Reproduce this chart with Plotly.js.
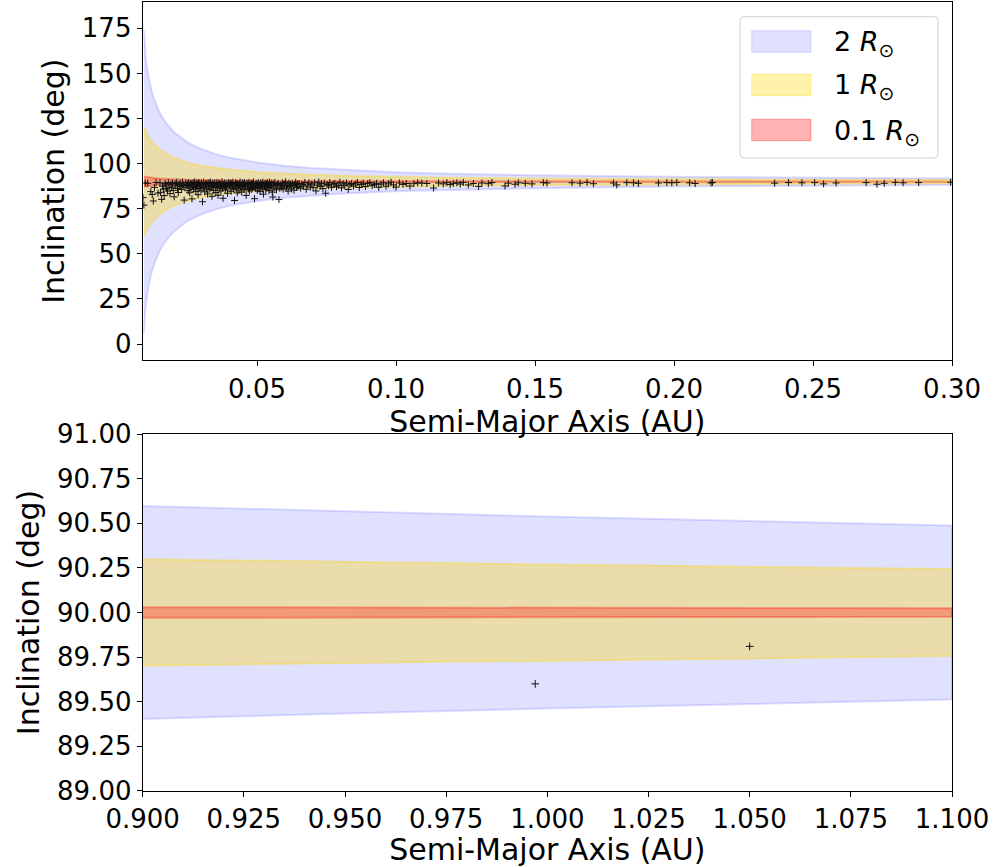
<!DOCTYPE html>
<html>
<head>
<meta charset="utf-8">
<script src="https://cdn.plot.ly/plotly-3.0.1.min.js"></script>
<style>
  html, body { margin: 0; padding: 0; background: #ffffff; }
  #chart { width: 997px; height: 867px; }
</style>
</head>
<body>
<div id="chart"></div>
<script>
// Transit-allowed inclination bands (90 deg +/- half-width) for three stellar radii,
// with the observed planets plotted on top.

const CENTER_INC = 90;

// Upper panel: band sample points (AU) and half-widths (deg)
const bandA_top = [0.00935, 0.0095, 0.0097, 0.0100, 0.0105, 0.0110, 0.0120, 0.0130, 0.0150, 0.0170,
                   0.0200, 0.0250, 0.0300, 0.0350, 0.0400, 0.0500, 0.0600, 0.0700, 0.0800, 0.1000,
                   0.1200, 0.1500, 0.2000, 0.2500, 0.3000];
const halfW_2Rsun_top = [84.0, 78.2, 73.5, 68.4, 62.3, 57.7, 50.8, 45.7, 38.3, 33.2,
                         27.7, 21.8, 18.1, 15.4, 13.4, 10.7, 8.9, 7.6, 6.7, 5.3,
                         4.4, 3.6, 2.7, 2.1, 1.8];
const halfW_1Rsun_top = [29.8, 29.3, 28.6, 27.7, 26.3, 25.0, 22.8, 21.0, 18.1, 15.9,
                         13.4, 10.7, 8.9, 7.6, 6.7, 5.3, 4.4, 3.8, 3.3, 2.7,
                         2.2, 1.8, 1.3, 1.1, 0.9];
const halfW_01Rsun_top = [2.85, 2.80, 2.75, 2.66, 2.54, 2.42, 2.22, 2.05, 1.78, 1.57,
                          1.33, 1.07, 0.89, 0.76, 0.67, 0.53, 0.44, 0.38, 0.33, 0.27,
                          0.22, 0.18, 0.13, 0.11, 0.09];

// Lower panel: band sample points (AU) and half-widths (deg)
const bandA_bot = [0.90, 0.95, 1.00, 1.05, 1.10];
const halfW_2Rsun_bot = [0.597, 0.566, 0.538, 0.512, 0.488];
const halfW_1Rsun_bot = [0.299, 0.283, 0.269, 0.256, 0.244];
const halfW_01Rsun_bot = [0.030, 0.028, 0.027, 0.026, 0.024];

// Planets: semi-major axis (AU) and inclination (deg)
const planetA = [
  0.0090, 0.0093, 0.0098, 0.0107, 0.0118, 0.0123, 0.0127, 0.0131, 0.0137, 0.0144,
  0.0151, 0.0153, 0.0157, 0.0160, 0.0163, 0.0166, 0.0169, 0.0172, 0.0175, 0.0178,
  0.0181, 0.0184, 0.0187, 0.0190, 0.0193, 0.0196, 0.0199, 0.0202, 0.0205, 0.0208,
  0.0211, 0.0214, 0.0217, 0.0220, 0.0223, 0.0226, 0.0229, 0.0232, 0.0235, 0.0238,
  0.0241, 0.0244, 0.0247,
  0.0250, 0.0252, 0.0254, 0.0256, 0.0258, 0.0260, 0.0262, 0.0264, 0.0266, 0.0268,
  0.0270, 0.0272, 0.0274, 0.0276, 0.0278, 0.0280, 0.0282, 0.0284, 0.0286, 0.0288,
  0.0290, 0.0292, 0.0294, 0.0296, 0.0298, 0.0300, 0.0302, 0.0304, 0.0306, 0.0308,
  0.0310, 0.0312, 0.0314, 0.0316, 0.0318, 0.0320, 0.0322, 0.0324, 0.0326, 0.0328,
  0.0330, 0.0332, 0.0334, 0.0336, 0.0338, 0.0340, 0.0342, 0.0344, 0.0346, 0.0348,
  0.0350, 0.0352, 0.0354, 0.0356, 0.0358, 0.0360, 0.0362, 0.0364, 0.0366, 0.0368,
  0.0370, 0.0372, 0.0374, 0.0376, 0.0378, 0.0380, 0.0382, 0.0384, 0.0386, 0.0388,
  0.0390, 0.0392, 0.0394, 0.0396, 0.0398,
  0.0401, 0.0403, 0.0405, 0.0407, 0.0409, 0.0411, 0.0413, 0.0415, 0.0417, 0.0419,
  0.0421, 0.0423, 0.0425, 0.0427, 0.0429, 0.0431, 0.0433, 0.0435, 0.0437, 0.0439,
  0.0441, 0.0443, 0.0445, 0.0447, 0.0449, 0.0451, 0.0453, 0.0455, 0.0457, 0.0459,
  0.0461, 0.0463, 0.0465, 0.0467, 0.0469, 0.0471, 0.0473, 0.0475, 0.0477, 0.0479,
  0.0481, 0.0483, 0.0485, 0.0487, 0.0489, 0.0491, 0.0493, 0.0495, 0.0497, 0.0499,
  0.0501, 0.0503, 0.0505, 0.0507, 0.0509, 0.0511, 0.0513, 0.0515, 0.0517, 0.0519,
  0.0521, 0.0523, 0.0525, 0.0527, 0.0529, 0.0531, 0.0533, 0.0535, 0.0537, 0.0539,
  0.0541, 0.0543, 0.0545, 0.0547, 0.0549, 0.0551, 0.0553, 0.0555, 0.0557, 0.0559,
  0.0561, 0.0564, 0.0567, 0.0570, 0.0573, 0.0576, 0.0579, 0.0582, 0.0585, 0.0588,
  0.0591, 0.0594, 0.0597, 0.0600, 0.0603, 0.0606, 0.0609, 0.0612, 0.0615, 0.0618,
  0.0621, 0.0624, 0.0627, 0.0630, 0.0633, 0.0636, 0.0639, 0.0642, 0.0645, 0.0648,
  0.0652, 0.0657, 0.0662, 0.0667, 0.0672, 0.0677, 0.0682, 0.0687, 0.0692, 0.0697,
  0.0702, 0.0707, 0.0712, 0.0717, 0.0722, 0.0727, 0.0732, 0.0737, 0.0742, 0.0747,
  0.0752, 0.0757, 0.0762, 0.0768, 0.0774, 0.0780, 0.0786, 0.0792, 0.0798, 0.0804,
  0.0810, 0.0816, 0.0822, 0.0828, 0.0834, 0.0840, 0.0847, 0.0854, 0.0861, 0.0868,
  0.0875, 0.0882, 0.0890, 0.0898, 0.0906, 0.0914, 0.0922, 0.0930, 0.0938, 0.0946,
  0.0955, 0.0964, 0.0973, 0.0982, 0.0991, 0.1000, 0.1012, 0.1025, 0.1037, 0.1050,
  0.1064, 0.1078,
  0.1093, 0.1111, 0.1135, 0.1153, 0.1170, 0.1183, 0.1195, 0.1206, 0.1219, 0.1231,
  0.1242, 0.1260, 0.1278, 0.1297, 0.1309, 0.1332, 0.1345, 0.1392, 0.1404, 0.1428,
  0.1440, 0.1465, 0.1489, 0.1530, 0.1543, 0.1633, 0.1662, 0.1687, 0.1710, 0.1782,
  0.1794, 0.1830, 0.1854, 0.1872, 0.1944, 0.1974, 0.1992, 0.2010,
  0.2056, 0.2076, 0.2133, 0.2138, 0.2362, 0.2412, 0.2460, 0.2506, 0.2538, 0.2583,
  0.2691, 0.2730, 0.2756, 0.2796, 0.2824, 0.2880, 0.2995,
  0.997, 1.050
];
const planetInc = [
  81.2, 77.0, 89.3, 89.1, 84.5, 82.9, 79.3, 86.8, 89.6, 83.7,
  89.4, 84.1, 80.2, 87.5, 85.9, 82.3, 89.0, 88.2, 86.1, 84.8,
  89.5, 87.0, 83.4, 88.7, 86.6, 89.2, 85.2, 81.6, 88.9, 87.7,
  89.7, 86.3, 84.0, 88.4, 89.1, 87.3, 85.7, 89.8, 88.0, 79.8,
  86.9, 89.3, 87.9,
  88.6, 85.0, 89.5, 87.2, 83.9, 89.0, 86.4, 88.8, 80.5, 87.6,
  89.4, 85.8, 88.1, 89.9, 86.9, 84.6, 88.5, 89.2, 87.4, 82.8,
  89.6, 86.2, 88.9, 87.8, 85.3, 89.3, 88.3, 78.9, 86.7, 89.7,
  87.1, 84.4, 88.7, 89.0, 86.0, 88.2, 83.2, 89.5, 87.5, 85.6,
  88.9, 89.8, 86.5, 88.0, 81.9, 89.1, 87.3, 85.1, 88.6, 89.4,
  86.8, 84.0, 88.4, 89.6, 87.0, 82.5, 88.8, 86.1, 89.2, 87.7,
  84.9, 88.1, 89.9, 86.4, 80.8, 88.5, 87.4, 89.3, 85.5, 88.0,
  86.9, 89.0, 83.6, 87.9, 89.5,
  88.3, 86.6, 89.2, 84.7, 88.9, 87.5, 89.7, 85.9, 88.2, 79.6,
  87.1, 89.4, 86.3, 88.7, 83.8, 89.0, 87.8, 85.4, 88.5, 89.8,
  86.9, 88.0, 84.3, 89.3, 87.2, 88.6, 85.7, 89.5, 86.5, 88.1,
  82.4, 89.1, 87.6, 88.8, 86.0, 89.6, 84.9, 88.4, 87.0, 89.2,
  85.8, 88.9, 86.7, 89.9, 87.4, 80.6, 88.2, 86.2, 89.0, 87.9,
  85.2, 88.7, 89.4, 86.8, 88.0, 84.5, 89.3, 87.3, 88.6, 86.1,
  89.7, 83.1, 88.3, 87.7, 89.1, 85.6, 88.9, 86.6, 89.5, 87.1,
  88.4, 85.0, 89.8, 86.9, 88.1, 87.5, 89.2, 84.2, 81.5, 88.7,
  86.4, 89.6, 87.8, 85.5, 88.5, 89.0, 80.1, 86.3, 88.2, 87.0,
  89.4, 85.9, 88.8, 87.6, 89.9, 86.5, 88.0, 84.8, 89.3, 87.3,
  88.6, 86.0, 89.1, 87.9, 85.3, 88.4, 89.7, 86.8, 88.9, 87.2,
  89.0, 86.4, 88.5, 87.5, 89.6, 85.8, 88.2, 89.3, 87.0, 88.7,
  86.7, 89.4, 84.9, 88.1, 89.8, 87.4, 88.9, 86.2, 89.2, 83.6,
  88.4, 87.7, 89.5, 86.9, 88.6, 89.1, 87.2, 88.0, 89.7, 86.6,
  88.8, 87.9, 89.3, 85.7, 88.3, 89.0, 87.6, 88.7, 89.6, 86.8,
  88.5, 89.2, 87.3, 88.9, 89.5, 87.8, 88.4, 89.1, 86.9, 88.6,
  89.4, 87.5, 88.8, 89.7, 88.2, 87.0, 89.3, 88.5, 89.0, 87.6,
  88.9, 89.4,
  89.2, 89.0, 86.5, 89.3, 88.8, 89.5, 88.4, 89.1, 89.4, 88.7,
  89.6, 88.2, 89.0, 87.4, 89.3, 88.9, 89.5, 87.6, 89.2, 88.6,
  89.4, 89.1, 88.8, 89.5, 89.3, 89.4, 89.2, 89.6, 88.9, 89.3,
  88.2, 89.5, 89.4, 89.1, 89.3, 89.5, 89.4, 89.6,
  89.4, 89.0, 89.3, 89.6, 89.2, 89.5, 89.4, 89.5, 88.8, 89.3,
  89.5, 88.6, 89.1, 89.6, 89.4, 89.5, 89.7,
  89.60, 89.81
];

const BLUE = 'rgba(0,0,255,0.12)';
const GOLD = 'rgba(255,215,0,0.33)';
const RED  = 'rgba(255,0,0,0.30)';

function band(aArr, hwArr, color, xa, ya) {
  const upper = aArr.map((a, k) => CENTER_INC + hwArr[k]);
  const lower = aArr.map((a, k) => CENTER_INC - hwArr[k]);
  return {
    type: 'scatter', mode: 'lines', xaxis: xa, yaxis: ya,
    x: aArr.concat(aArr.slice().reverse()),
    y: upper.concat(lower.slice().reverse()),
    fill: 'toself', fillcolor: color,
    line: { color: color, width: 2 },
    hoverinfo: 'skip', showlegend: false
  };
}

const markerTop = { symbol: 'cross-thin', size: 5, color: '#111', line: { color: '#111', width: 1 } };
const markerBot = { symbol: 'cross-thin', size: 5.5, color: '#111', line: { color: '#111', width: 1 } };

const traces = [
  band(bandA_top, halfW_2Rsun_top, BLUE, 'x', 'y'),
  band(bandA_top, halfW_1Rsun_top, GOLD, 'x', 'y'),
  band(bandA_top, halfW_01Rsun_top, RED, 'x', 'y'),
  { type: 'scatter', mode: 'markers', xaxis: 'x', yaxis: 'y',
    x: planetA, y: planetInc, marker: markerTop, showlegend: false, cliponaxis: true },
  band(bandA_bot, halfW_2Rsun_bot, BLUE, 'x2', 'y2'),
  band(bandA_bot, halfW_1Rsun_bot, GOLD, 'x2', 'y2'),
  band(bandA_bot, halfW_01Rsun_bot, RED, 'x2', 'y2'),
  { type: 'scatter', mode: 'markers', xaxis: 'x2', yaxis: 'y2',
    x: planetA, y: planetInc, marker: markerBot, showlegend: false, cliponaxis: true }
];

const FONT = 'DejaVu Sans, sans-serif';
const TICK_FONT = { family: FONT, size: 26, color: '#000' };
const TITLE_FONT = { family: FONT, size: 30, color: '#000' };

function axisBase() {
  return {
    showline: true, mirror: true, linecolor: '#000', linewidth: 1,
    ticks: 'outside', ticklen: 5, tickwidth: 1, tickcolor: '#000',
    showgrid: false, zeroline: false, tickfont: TICK_FONT, automargin: false
  };
}

const xDom = [0.1431, 0.9549];

const layout = {
  width: 997, height: 867,
  margin: { l: 0, r: 0, t: 0, b: 0 },
  paper_bgcolor: '#ffffff', plot_bgcolor: '#ffffff',
  font: { family: FONT },
  showlegend: false,
  xaxis: Object.assign(axisBase(), {
    domain: xDom, anchor: 'y', range: [0.00887, 0.30],
    tick0: 0, dtick: 0.05, tickformat: '.2f',
    title: { text: 'Semi-Major Axis (AU)', font: TITLE_FONT, standoff: 6 }
  }),
  yaxis: Object.assign(axisBase(), {
    domain: [0.5844, 0.9977], anchor: 'x', range: [-9.0, 189.6],
    tick0: 0, dtick: 25,
    title: { text: 'Inclination (deg)', font: TITLE_FONT, standoff: 8 }
  }),
  xaxis2: Object.assign(axisBase(), {
    domain: xDom, anchor: 'y2', range: [0.9, 1.1],
    tick0: 0.9, dtick: 0.025, tickformat: '.3f',
    title: { text: 'Semi-Major Axis (AU)', font: TITLE_FONT, standoff: 6 }
  }),
  yaxis2: Object.assign(axisBase(), {
    domain: [0.0877, 0.4994], anchor: 'x2', range: [89, 91],
    tick0: 89, dtick: 0.25, tickformat: '.2f',
    title: { text: 'Inclination (deg)', font: TITLE_FONT, standoff: 8 }
  }),
  shapes: [],
  annotations: []
};

// Legend drawn in figure coordinates (upper right of the top panel)
const W = 997, H = 867;
const px = v => v / W;
const py = v => 1 - v / H;
(function legend() {
  const x0 = px(740), x1 = px(938), yT = py(16.7), yB = py(158);
  const rx = px(4), ry = 4 / H;
  const path = `M${x0 + rx},${yT} L${x1 - rx},${yT} Q${x1},${yT} ${x1},${yT - ry} ` +
               `L${x1},${yB + ry} Q${x1},${yB} ${x1 - rx},${yB} L${x0 + rx},${yB} ` +
               `Q${x0},${yB} ${x0},${yB + ry} L${x0},${yT - ry} Q${x0},${yT} ${x0 + rx},${yT} Z`;
  layout.shapes.push({ type: 'path', xref: 'paper', yref: 'paper', path: path,
    fillcolor: 'rgba(255,255,255,0.8)', line: { color: '#d0d0d0', width: 1 }, layer: 'above' });
  const entries = [
    { color: BLUE, label: '2 <i>R</i><sub>⊙</sub>', top: 30.7, bot: 52.3 },
    { color: GOLD, label: '1 <i>R</i><sub>⊙</sub>', top: 74.3, bot: 95.7 },
    { color: RED,  label: '0.1 <i>R</i><sub>⊙</sub>', top: 119.3, bot: 140.7 }
  ];
  entries.forEach(e => {
    layout.shapes.push({ type: 'rect', xref: 'paper', yref: 'paper',
      x0: px(751.7), x1: px(811), y0: py(e.bot), y1: py(e.top),
      fillcolor: e.color, line: { color: e.color, width: 1 }, layer: 'above' });
    layout.annotations.push({ xref: 'paper', yref: 'paper', x: px(832), y: py((e.top + e.bot) / 2 + 2),
      xanchor: 'left', yanchor: 'middle', showarrow: false, text: e.label,
      font: { family: FONT, size: 27, color: '#000' } });
  });
})();

Plotly.newPlot('chart', traces, layout, { staticPlot: true, displayModeBar: false });
</script>
</body>
</html>
